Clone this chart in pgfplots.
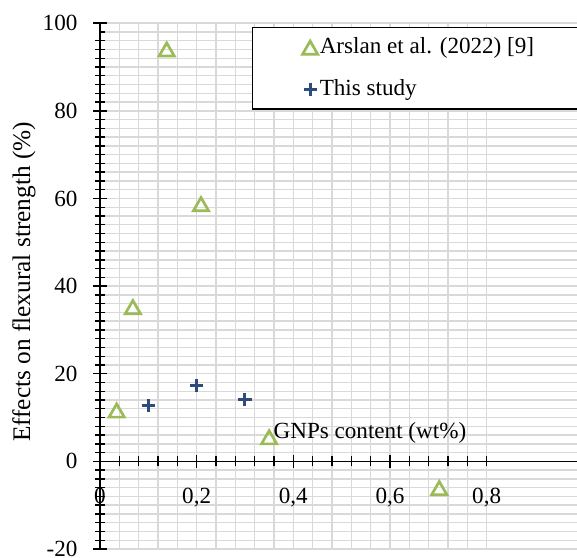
\documentclass[border=0pt]{standalone}
\usepackage{fontspec}
\setmainfont{Liberation Serif}
\usepackage{pgfplots}
\pgfplotsset{compat=1.18}

\definecolor{arslan}{RGB}{155,187,89}
\definecolor{study}{RGB}{47,75,125}
\definecolor{gridgray}{RGB}{217,217,217}

\begin{document}
\fontsize{11.6}{13.9}\selectfont
\begin{tikzpicture}
\useasboundingbox (-50bp,-4.5bp) rectangle (238.5bp,274.5bp);
\begin{axis}[
    at={(0,0)}, anchor=south west,
    scale only axis,
    width=238.5bp, height=262.9bp,
    xmin=0, xmax=0.987,
    ymin=-20, ymax=100,
    axis lines=middle,
    axis line style={-, line width=0.7bp},
    hide obscured x ticks=false,
    hide obscured y ticks=false,
    xtick={0,0.2,0.4,0.6,0.8},
    ytick={-20,0,20,40,60,80,100},
    minor x tick num=4,
    minor y tick num=9,
    grid=both,
    grid style={gridgray, line width=0.7bp},
    major grid style={gridgray, line width=0.7bp},
    minor grid style={gridgray, line width=0.7bp},
    tick align=center,
    major tick length=6.5bp,
    minor tick length=5bp,
    tick style={black, line width=0.7bp},
    major x tick style={shorten <=0.75bp, shorten >=0.75bp},
    minor y tick style={shorten <=2.5bp},
    /pgf/number format/assume math mode=true,
    /pgf/number format/use comma,
    tick label style={font=\fontsize{11.6}{13.9}\selectfont},
    xticklabel style={yshift=-6bp},
    yticklabel style={xshift=-4bp},
    xlabel={GNPs content (wt\%)},
    ylabel={Effects on flexural strength (\%)},
    every axis x label/.style={at={(axis description cs:0.566,0.2206)}, anchor=center,
        font=\fontsize{11.6}{13.9}\selectfont},
    every axis y label/.style={at={(axis description cs:-0.1593,0.508)}, rotate=90, anchor=center,
        font=\fontsize{12.7}{15.2}\selectfont},
    legend style={at={(axis description cs:0.318,0.9933)}, anchor=north west,
        draw=black, line width=0.85bp, fill=white,
        inner xsep=25bp, inner ysep=3.2bp, row sep=7bp,
        nodes={inner xsep=1bp},
        font=\fontsize{11.6}{13.9}\selectfont},
    legend cell align=left,
    legend image code/.code={\draw[#1] plot coordinates {(0bp,0bp)};},
]

% Arslan et al. (2022) [9]
\addplot[only marks, mark=triangle, mark size=4.4bp,
    mark options={arslan, line width=1.35bp, yshift=-1.1bp}] coordinates {
    (0.0345, 11.6) (0.068, 35.2) (0.138, 94.0) (0.209, 58.7) (0.350, 5.5) (0.702, -6.1)
};

% This study
\addplot[only marks, mark=+, mark size=3.3bp,
    mark options={study, line width=1.5bp}] coordinates {
    (0.1, 12.66) (0.2, 17.3) (0.3, 14.2)
};

\legend{Arslan et al. (2022) [9], This study}

\end{axis}
\end{tikzpicture}
\end{document}
